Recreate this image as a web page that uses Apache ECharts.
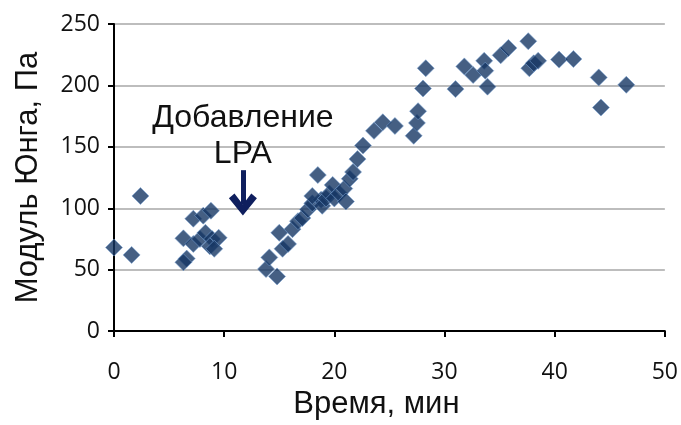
<!DOCTYPE html>
<html lang="ru">
<head>
<meta charset="UTF-8">
<title>Модуль Юнга</title>
<script src="https://cdn.jsdelivr.net/npm/echarts@6/dist/echarts.min.js"></script>
<style>
  html, body { margin: 0; padding: 0; background: #fff; }
  #chart { width: 681px; height: 425px; }
</style>
</head>
<body>
<div id="chart"></div>
<script>
// время, мин
var time = [
  0, 1.6, 2.4,
  6.3, 6.6, 6.3, 7.2, 8.1, 8.8, 7.2, 7.8, 8.3, 8.9, 9.5, 8.7, 9.1,
  13.8, 14.8, 14.1, 15.0, 15.3, 15.8, 16.2, 16.7, 17.1, 17.6, 18.0, 18.8,
  18.5, 18.0, 18.9, 19.25, 19.55, 19.85, 20.0, 20.45, 20.9, 21.05, 21.4, 21.7,
  22.1, 22.6, 23.6, 24.4, 25.5,
  27.2, 27.5, 27.6, 28.05, 28.3, 31.0, 31.8, 32.6, 33.6, 33.7, 33.9,
  35.1, 35.8, 37.6, 37.7, 38.1, 38.5, 40.4, 41.7, 44.0, 44.2, 46.5
];
// модуль Юнга, Па
var modulus = [
  68, 62, 110,
  75.5, 59, 56, 91.5, 94, 98, 71, 75, 80, 75, 76, 69, 67,
  50.5, 44.5, 60, 80, 67, 71, 83, 89.5, 92, 99, 104, 107,
  127, 110, 102, 108, 112, 119, 108, 112, 116, 105.5, 124, 129.5,
  140, 151, 163, 170, 167,
  159, 169.5, 179, 197.5, 214, 197, 215.5, 208.5, 220, 212, 199,
  224.5, 230.5, 236, 214, 218, 220, 221, 221.5, 206.5, 182, 200.5
];
var xTicks = [0, 10, 20, 30, 40, 50];
var yTicks = [0, 50, 100, 150, 200, 250];

// подпись и стрелка "Добавление LPA"
var noteText = 'Добавление\nLPA';
var notePos = [11.7, 159];
var arrowFrom = [11.7, 131];
var arrowTo = [11.7, 103];

var points = time.map(function (t, i) { return [t, modulus[i]]; });

var chart = echarts.init(document.getElementById('chart'));

var option = {
  animation: false,
  grid: { left: 114, right: 15, top: 24, bottom: 88 },
  xAxis: {
    type: 'value',
    min: xTicks[0],
    max: xTicks[xTicks.length - 1],
    interval: 10,
    name: 'Время, мин',
    nameLocation: 'middle',
    nameGap: 56,
    nameTextStyle: { fontFamily: 'Liberation Sans', fontSize: 31, color: '#111', padding: [0, 26, 0, 0] },
    axisLine: { lineStyle: { color: '#000', width: 2 } },
    axisTick: { show: true, length: 6, lineStyle: { color: '#000', width: 2 } },
    axisLabel: { fontFamily: 'Open Sans', fontSize: 23, color: '#111', margin: 30 },
    splitLine: { show: false }
  },
  yAxis: {
    type: 'value',
    min: yTicks[0],
    max: yTicks[yTicks.length - 1],
    interval: 50,
    name: 'Модуль Юнга, Па',
    nameLocation: 'middle',
    nameGap: 70,
    nameTextStyle: { fontFamily: 'Liberation Sans', fontSize: 31, color: '#111' },
    axisLine: { show: true, lineStyle: { color: '#000', width: 2 } },
    axisTick: { show: true, length: 6, lineStyle: { color: '#000', width: 2 } },
    axisLabel: { fontFamily: 'Open Sans', fontSize: 23, color: '#111', margin: 14 },
    splitLine: { lineStyle: { color: '#bdbdbd', width: 2 } }
  },
  series: [{
    type: 'scatter',
    symbol: 'diamond',
    symbolSize: 17,
    data: points,
    itemStyle: {
      color: '#173764',
      borderColor: 'rgba(120,160,210,0.7)',
      borderWidth: 1
    },
    markPoint: {
      silent: true,
      symbol: 'circle',
      symbolSize: 0,
      data: [{ coord: notePos, value: noteText }],
      label: {
        show: true,
        formatter: noteText,
        fontFamily: 'Liberation Sans',
        fontSize: 32,
        lineHeight: 36,
        color: '#111',
        align: 'center',
        verticalAlign: 'middle',
        position: 'inside'
      }
    },
    markLine: {
      silent: true,
      symbol: ['none', 'path://M0,11 L10,0 L20,11 L16,14 L10,7 L4,14 Z'],
      symbolSize: [28, 22],
      label: { show: false },
      lineStyle: { color: '#0f1f5e', width: 5, type: 'solid' },
      data: [[{ coord: arrowFrom }, { coord: arrowTo }]]
    }
  }]
};

chart.setOption(option);
</script>
</body>
</html>
